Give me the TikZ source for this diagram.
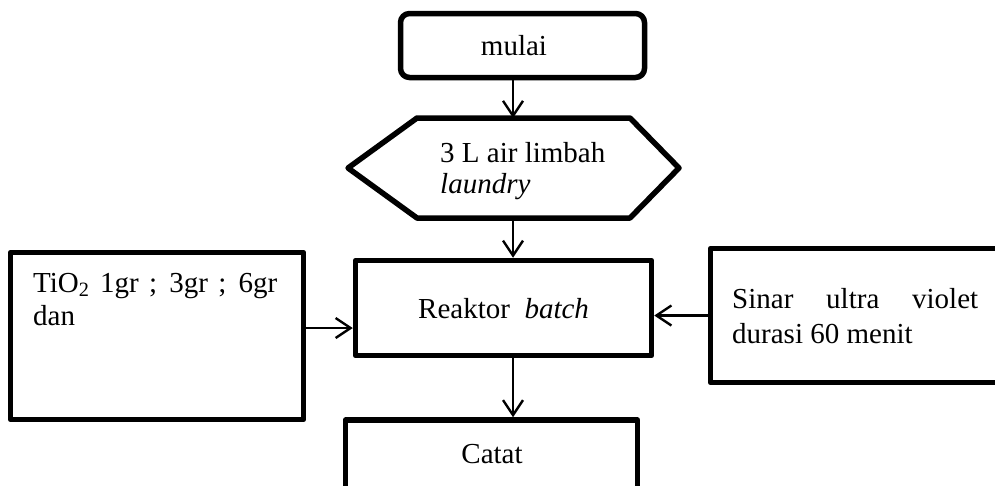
\documentclass[tikz,border=0pt]{standalone}
\usepackage{fontspec}
\setmainfont{Liberation Serif}
\usetikzlibrary{arrows.meta}
\begin{document}
\begin{tikzpicture}[x=1pt,y=-1pt,
  box/.style={draw,line width=5.5pt,line join=round,rectangle,inner sep=0pt},
  txt/.style={inner sep=0pt,anchor=base west,font=\fontsize{29}{33}\selectfont},
  ctxt/.style={txt,anchor=base},
  arr/.style={line width=2.4pt,-{Straight Barb[length=15pt,width=20pt,line width=2.4pt]}}]
\useasboundingbox (0,0) rectangle (995,485);
\clip (0,0) rectangle (995,485);

% start terminal
\node[box,rounded corners=9pt,minimum width=244pt,minimum height=64pt] (mulai) at (522.5,45.5) {};
\node[ctxt] (mulaitxt) at (514,55) {mulai};

% input (hexagon)
\coordinate (hexN) at (513,118);
\coordinate (hexS) at (513,218);
\draw[line width=5.5pt,line join=round] (417,118) -- (630,118) -- (679,168) -- (630,218) -- (417,218) -- (348,168) -- cycle;
\node[txt] (hexa1) at (440,162) {3 L air limbah};
\node[txt] (hexa2) at (440,193) {\textit{laundry}};

% reactor
\node[box,minimum width=296pt,minimum height=95pt] (reaktor) at (503.5,308) {};
\node[txt] (reaktortxt) at (418,318) {Reaktor\ \ \textit{batch}};

% catalyst dose
\node[box,minimum width=293pt,minimum height=167pt] (tio) at (157,336) {};
\node[txt] (tio1) at (33,292) {\hbox to 244pt{TiO\textsubscript{2} 1gr ; 3gr ; 6gr}};
\node[txt] (tio2) at (33,325) {dan};

% UV exposure
\node[box,minimum width=294pt,minimum height=134pt] (uv) at (857.5,315.5) {};
\node[txt] (uv1) at (732,308) {\hbox to 246pt{Sinar ultra violet}};
\node[txt] (uv2) at (732,343) {durasi 60 menit};

% record
\node[box,minimum width=292pt,minimum height=75pt] (catat) at (491.5,457.5) {};
\node[ctxt] (catattxt) at (492,463) {Catat};

% connectors
\draw[arr] (mulai.south -| hexN) -- (hexN);
\draw[arr] (hexS) -- (reaktor.north -| hexS);
\draw[arr] ([yshift=8pt]tio.east) -- ([yshift=8pt]tio.east -| reaktor.west);
\draw[arr] (uv.west) -- (uv.west -| reaktor.east);
\draw[arr] (reaktor.south -| hexS) -- (catat.north -| hexS);
\end{tikzpicture}
\end{document}
